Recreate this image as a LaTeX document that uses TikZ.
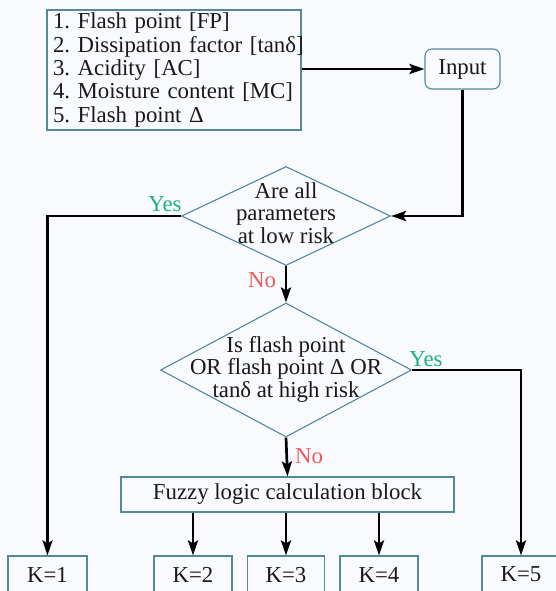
\documentclass[tikz,border=0pt]{standalone}
\usepackage{fontspec}
\setmainfont{Liberation Serif}
\usetikzlibrary{shapes.geometric,arrows.meta}
\definecolor{bg}{RGB}{248,250,253}
\definecolor{bord}{RGB}{80,138,155}
\definecolor{txt}{RGB}{25,25,25}
\definecolor{yesc}{RGB}{30,175,135}
\definecolor{noc}{RGB}{240,90,90}
\frenchspacing
\tikzset{
  box/.style={draw=bord, line width=1.1pt, fill=bg, text=txt, inner sep=0pt, font=\fontsize{22.8}{23.3}\selectfont},
  dia/.style={draw=bord, line width=1.1pt, fill=bg, shape=diamond, inner sep=0pt},
  dtext/.style={align=center, text=txt, font=\fontsize{22.8}{22.5}\selectfont},
  conn/.style={line width=2.7pt, black, -{Stealth[length=15pt,width=10pt,inset=3pt]}},
  yeslab/.style={text=yesc, font=\fontsize{22.8}{22}\selectfont},
  nolab/.style={text=noc, font=\fontsize{22.8}{22}\selectfont},
}
\begin{document}
\begin{tikzpicture}[x=1pt,y=-1pt]
\useasboundingbox (0,0) rectangle (556,591);
\fill[bg] (0,0) rectangle (556,591);
\clip (0,0) rectangle (556,591);

\node[box, minimum width=254pt, minimum height=120pt, text width=242pt, align=left] (list) at (174,70)
 {\mbox{1. Flash point [FP]}\\\mbox{2. Dissipation factor [tanδ]}\\\mbox{3. Acidity [AC]}\\\mbox{4. Moisture content [MC]}\\\mbox{5. Flash point Δ}};
\node[box, rounded corners=7pt, minimum width=75pt, minimum height=40pt] (input) at (462.5,69) {Input};

\node[dia, minimum width=209pt, minimum height=99pt] (d1) at (286,216) {};
\node[dtext] (d1t) at ([yshift=3pt]d1.center) {Are all\\parameters\\at low risk};

\node[dia, minimum width=251pt, minimum height=134pt] (d2) at (286,370) {};
\node[dtext] (d2t) at ([yshift=1pt]d2.center) {Is flash point\\OR flash point Δ OR\\tanδ at high risk};

\node[box, minimum width=333pt, minimum height=35pt] (fz) at (287.5,494.5) {Fuzzy logic calculation block};

\node[box, minimum width=79pt, minimum height=42pt] (k1) at (47.5,577) {\raisebox{5pt}{K=1}};
\node[box, minimum width=78pt, minimum height=42pt] (k2) at (193,577) {\raisebox{5pt}{K=2}};
\node[box, minimum width=77pt, minimum height=42pt] (k3) at (286,577) {\raisebox{5pt}{K=3}};
\node[box, minimum width=78pt, minimum height=42pt] (k4) at (379,577) {\raisebox{5pt}{K=4}};
\node[box, minimum width=78pt, minimum height=42pt] (k5) at (521,577) {\raisebox{5pt}{K=5}};

\draw[conn] (list.east |- input.west) -- (input.west);
\draw[conn] (input.south) |- (d1.east);
\draw[conn] (d1.west) -| (k1.north);
\draw[conn] (d1.south) -- (d2.north);
\draw[conn] (d2.east) -| (k5.north);
\draw[conn] (d2.south) -- (fz.north);
\draw[conn] (fz.south -| k2.north) -- (k2.north);
\draw[conn] (fz.south -| k3.north) -- (k3.north);
\draw[conn] (fz.south -| k4.north) -- (k4.north);

\node[yeslab] (y1) at (165,204) {Yes};
\node[nolab] (n1) at (262,280) {No};
\node[yeslab] (y2) at (426,359) {Yes};
\node[nolab] (n2) at (309,456) {No};
\end{tikzpicture}
\end{document}
